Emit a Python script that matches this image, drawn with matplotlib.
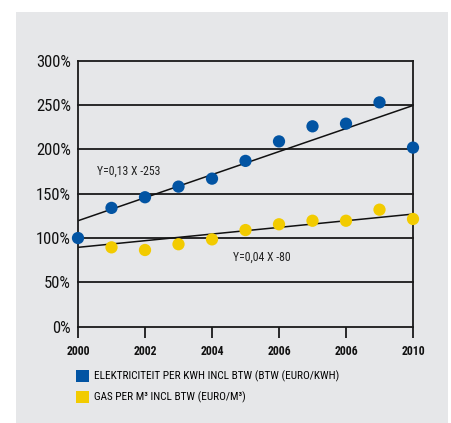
import matplotlib
matplotlib.use("Agg")
import matplotlib.pyplot as plt
from matplotlib.patches import Rectangle, Patch
from matplotlib import font_manager

years = [2000, 2001, 2002, 2003, 2004, 2005, 2006, 2007, 2008, 2009, 2010]
electricity = [100, 134, 146, 158, 167, 187, 209, 226, 229, 253, 202]
gas = [None, 89.5, 86.5, 93, 98.5, 109, 115.5, 119.5, 119.5, 132, 121.5]
trend_years = [2000, 2010]
electricity_trend = [119.5, 249.5]
gas_trend = [89.5, 127]
xtick_values = [2000, 2002, 2004, 2006, 2008, 2010]
xtick_labels = ["2000", "2002", "2004", "2006", "2006", "2010"]
ytick_values = [0, 50, 100, 150, 200, 250, 300]
ytick_labels = ["0%", "50%", "100%", "150%", "200%", "250%", "300%"]
legend_labels = ["ELEKTRICITEIT PER KWH INCL BTW (BTW (EURO/KWH)",
                 "GAS PER M³ INCL BTW (EURO/M³)"]
eq_electricity = "Y=0,13 X -253"
eq_gas = "Y=0,04 X -80"

BLUE = "#0254A3"
YELLOW = "#F2CB00"
PANEL = "#E6E7E9"
INK = "#1a1a1a"

installed = {f.name for f in font_manager.fontManager.ttflist}
condensed = next((n for n in ["Roboto Condensed", "Archivo Narrow", "Barlow Semi Condensed",
                              "Liberation Sans Narrow", "Liberation Sans"] if n in installed),
                 "DejaVu Sans")
plt.rcParams["font.family"] = [condensed, "DejaVu Sans"]

W, H = 451, 423
fig = plt.figure(figsize=(W / 100, H / 100), dpi=100, facecolor="white")
fig.patches.append(Rectangle((16 / W, 0), (448 - 16) / W, (H - 12) / H,
                             transform=fig.transFigure, facecolor=PANEL,
                             edgecolor="none", zorder=-10))

ax = fig.add_axes([78 / W, (H - 326.7) / H, (413 - 78) / W, (326.7 - 60.7) / H])
ax.set_facecolor("none")
ax.set_zorder(1)
ax.set_xlim(2000, 2010)
ax.set_ylim(0, 300)

ax.spines["top"].set_visible(False)
for s in ["left", "right", "bottom"]:
    ax.spines[s].set_color(INK)
    ax.spines[s].set_linewidth(1.3)

for v in ytick_values[1:]:
    ax.axhline(v, color=INK, lw=1.3, zorder=1, clip_on=False)

ax.set_yticks(ytick_values)
ax.set_yticklabels(ytick_labels, fontsize=12)
ax.tick_params(axis="y", length=0, pad=5, labelcolor="#111111")
ax.set_xticks(xtick_values)
ax.set_xticklabels(xtick_labels, fontsize=8.5, fontweight="semibold")
ax.tick_params(axis="x", length=8, width=1.3, color=INK, direction="out", pad=5,
               labelcolor="#111111")

ax.plot(trend_years, electricity_trend, color="#111111", lw=1.1, zorder=2)
ax.plot(trend_years, gas_trend, color="#111111", lw=1.1, zorder=2)

gx = [x for x, v in zip(years, gas) if v is not None]
gy = [v for v in gas if v is not None]
ax.scatter(gx, gy, s=78, color=YELLOW, edgecolors="none", zorder=3, clip_on=False)
ax.scatter(years, electricity, s=78, color=BLUE, edgecolors="none", zorder=4, clip_on=False)

ax.text(2000.57, 175.5, eq_electricity, fontsize=8.5, va="center", ha="left", color="#222222")
ax.text(2004.63, 78, eq_gas, fontsize=8.5, va="center", ha="left", color="#222222")

handles = [Patch(facecolor=BLUE, edgecolor="none"), Patch(facecolor=YELLOW, edgecolor="none")]
fig.legend(handles, legend_labels, loc="upper left",
           bbox_to_anchor=(76 / W, (H - 370) / H), frameon=False,
           fontsize=8.1, handlelength=1.15, handleheight=1.3, handletextpad=0.45,
           labelspacing=0.75, borderaxespad=0, borderpad=0)

fig.savefig("out.png", dpi=100, facecolor="white")
